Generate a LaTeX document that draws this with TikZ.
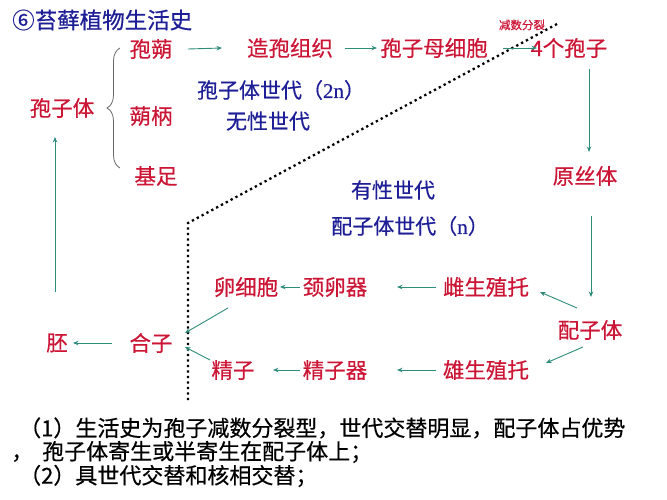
\documentclass[tikz,border=0pt]{standalone}
\usepackage{fontspec}
\setmainfont{Noto Sans CJK SC}[FakeBold=0.5]
\newfontfamily\serifL{Liberation Serif}[FakeBold=0.5]
\usetikzlibrary{arrows.meta,decorations.pathreplacing}
\definecolor{cred}{HTML}{CC1636}
\definecolor{cblue}{HTML}{1E1E96}
\definecolor{carrow}{HTML}{2E8C7A}
\begin{document}
\begin{tikzpicture}[x=1pt,y=-1pt,
  rt/.style={text=cred,font=\fontsize{21.5}{22}\selectfont,inner sep=0pt},
  bt/.style={text=cblue,font=\fontsize{21}{22}\selectfont,inner sep=0pt},
  kt/.style={text=black,font=\fontsize{22}{22}\selectfont,inner sep=0pt,anchor=west},
  arr/.style={draw=carrow,line width=0.9pt,-{Stealth[length=5.5pt,width=4.5pt]}},
  dotline/.style={draw=black,line width=2.3pt,dash pattern=on 2.3pt off 3.2pt},
  bracestyle/.style={draw=gray!80!black,line width=0.8pt,decorate,decoration={brace,amplitude=13pt}}]
\useasboundingbox (0,0) rectangle (667,500);
% title
\node[bt,anchor=west,font=\fontsize{22.5}{22}\selectfont] (title) at (12,20) {⑥苔藓植物生活史};
% top row
\node[rt] (bao) at (151,49) {孢蒴};
\node[rt] (zb) at (290,48) {造孢组织};
\node[rt] (bm) at (434,48) {孢子母细胞};
\node[rt] (sz) at (569,48) {4个孢子};
\node[text=cred,font=\fontsize{11.5}{12}\selectfont,inner sep=0pt] (jsfl) at (522,25) {减数分裂};
% sporophyte
\node[rt] (bzt) at (62,108) {孢子体};
\node[rt] (sb) at (151,116) {蒴柄};
\node[rt] (jz) at (156,176) {基足};
\node[bt] (g2n) at (281,90) {孢子体世代（{\serifL 2n}）};
\node[bt] (wx) at (268,121) {无性世代};
% gametophyte
\node[rt] (ysz) at (585,176) {原丝体};
\node[bt] (yx) at (393,190) {有性世代};
\node[bt] (pzsd) at (410,226) {配子体世代（{\serifL n}）};
\node[rt] (lxb) at (246,287) {卵细胞};
\node[rt] (jlq) at (335,287) {颈卵器};
\node[rt] (csz) at (486,287) {雌生殖托};
\node[rt] (pz) at (590,330) {配子体};
\node[rt] (hz) at (151,343) {合子};
\node[rt] (pei) at (57,343) {胚};
\node[rt] (jzi) at (233,370) {精子};
\node[rt] (jzq) at (335,370) {精子器};
\node[rt] (xsz) at (486,370) {雄生殖托};
% notes
\node[kt] (n1) at (19,428) {（1）生活史为孢子减数分裂型，世代交替明显，配子体占优势};
\node[kt] (n2) at (11,452) {，\hspace{9pt}孢子体寄生或半寄生在配子体上；};
\node[kt] (n3) at (19,476) {（2）具世代交替和核相交替；};
% brace
\draw[bracestyle] (120,168) -- (120,48);
% dotted boundary
\draw[dotline] (557,24) -- (188,223) -- (188,400);
% connectors
\draw[arr] ([shift={(37,0)}]bao.center) -- ([shift={(-68,0)}]zb.center);
\draw[arr] ([shift={(55,0)}]zb.center) -- ([shift={(-57,0)}]bm.center);
\draw[arr] ([shift={(69,0)}]bm.center) -- ([shift={(-32,0)}]sz.center);
\draw[arr] ([shift={(20,21)}]sz.center) -- ([shift={(4,-24)}]ysz.center);
\draw[arr] ([shift={(6,40)}]ysz.center) -- ([shift={(1,-33)}]pz.center);
\draw[arr] ([shift={(-13,-22)}]pz.center) -- ([shift={(54,5)}]csz.center);
\draw[arr] ([shift={(-7,17)}]pz.center) -- ([shift={(60,-7)}]xsz.center);
\draw[arr] ([shift={(-50,0)}]csz.center) -- ([shift={(62,0)}]jlq.center);
\draw[arr] ([shift={(-35,0)}]jlq.center) -- ([shift={(34,0)}]lxb.center);
\draw[arr] ([shift={(-50,0)}]xsz.center) -- ([shift={(62,0)}]jzq.center);
\draw[arr] ([shift={(-35,0)}]jzq.center) -- ([shift={(40,0)}]jzi.center);
\draw[arr] ([shift={(-18,21)}]lxb.center) -- ([shift={(34,-10)}]hz.center);
\draw[arr] ([shift={(-23,-10)}]jzi.center) -- ([shift={(34,4)}]hz.center);
\draw[arr] ([shift={(-39,0)}]hz.center) -- ([shift={(16,0)}]pei.center);
\draw[arr] ([shift={(-2,-51)}]pei.center) -- ([shift={(-7,29)}]bzt.center);
\end{tikzpicture}
\end{document}
